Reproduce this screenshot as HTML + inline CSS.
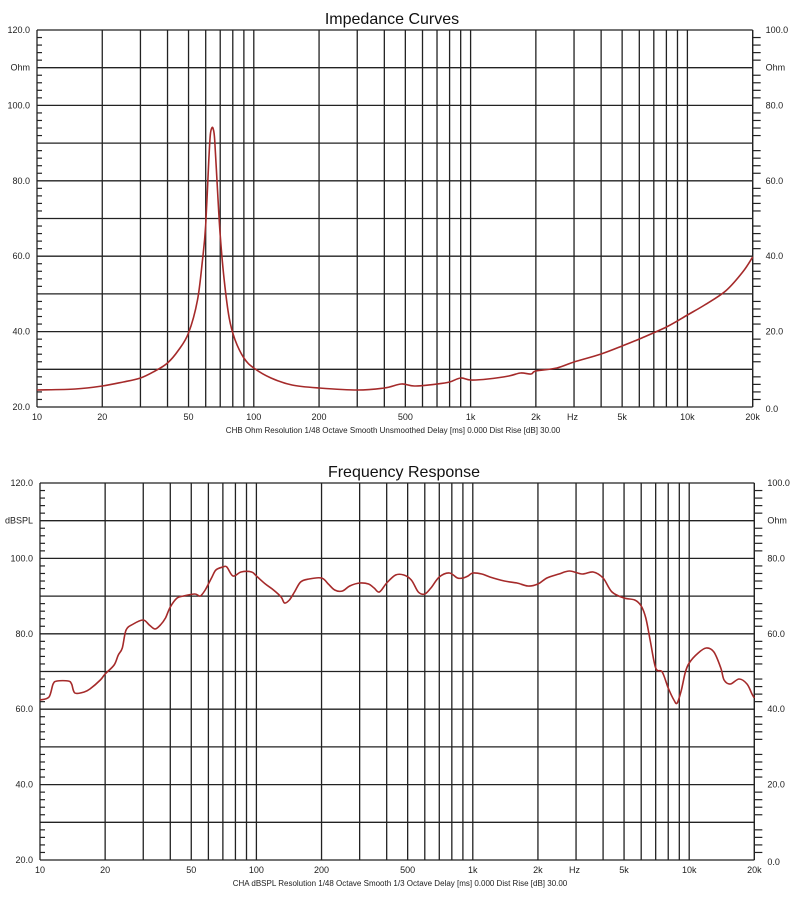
<!DOCTYPE html>
<html><head><meta charset="utf-8"><style>
html,body{margin:0;padding:0;background:#fff;}
svg{display:block;font-family:"Liberation Sans",sans-serif;}
</style></head><body>
<svg id="s" width="800" height="904" xmlns="http://www.w3.org/2000/svg"></svg>
<script>
var s=document.getElementById('s');var h='';
function smooth(pts){
 var d='M'+pts[0][0].toFixed(1)+','+pts[0][1];
 for(var i=0;i<pts.length-1;i++){
  var p0=pts[i-1]||pts[i],p1=pts[i],p2=pts[i+1],p3=pts[i+2]||p2;
  var c1x=p1[0]+(p2[0]-p0[0])/6,c1y=p1[1]+(p2[1]-p0[1])/6;
  var c2x=p2[0]-(p3[0]-p1[0])/6,c2y=p2[1]-(p3[1]-p1[1])/6;
  d+=' C'+c1x.toFixed(1)+','+c1y.toFixed(1)+' '+c2x.toFixed(1)+','+c2y.toFixed(1)+' '+p2[0].toFixed(1)+','+p2[1];
 }
 return d;
}
function chart(cfg){
 var x0=cfg.x0,dec=cfg.dec,y0=cfg.y0,y1=cfg.y1;
 var X=function(f){return x0+(Math.log10(f)-1)*dec;};
 var xr=X(20000);
 var st=(y1-y0)/10;
 h+='<text x="'+cfg.tx+'" y="'+(y0-6)+'" font-size="16" text-anchor="middle" font-family="Liberation Sans,DejaVu Sans,sans-serif" fill="#111">'+cfg.title+'</text>';
 for(var i=0;i<=10;i++){var y=y0+i*st;h+='<line x1="'+x0+'" x2="'+xr+'" y1="'+y+'" y2="'+y+'" stroke="#222" stroke-width="1.3"/>';}
 for(var i=0;i<50;i++){var y=y0+i*st/5; if(i%5==0)continue;
  h+='<line x1="'+x0+'" x2="'+(x0+5)+'" y1="'+y+'" y2="'+y+'" stroke="#222" stroke-width="1.2"/>';
  h+='<line x1="'+xr+'" x2="'+(xr+8)+'" y1="'+y+'" y2="'+y+'" stroke="#222" stroke-width="1.2"/>';}
 var fs=[];for(var d=10;d<=10000;d*=10)for(var m=1;m<10;m++){if(d*m<=20000)fs.push(d*m);}fs.push(20000);
 fs.forEach(function(f){var x=X(f);h+='<line x1="'+x+'" x2="'+x+'" y1="'+y0+'" y2="'+y1+'" stroke="#222" stroke-width="1.3"/>';});
 var L=[[10,'10'],[20,'20'],[50,'50'],[100,'100'],[200,'200'],[500,'500'],[1000,'1k'],[2000,'2k'],[2950,'Hz'],[5000,'5k'],[10000,'10k'],[20000,'20k']];
 L.forEach(function(l){h+='<text x="'+X(l[0])+'" y="'+(y1+13)+'" font-size="9" text-anchor="middle" fill="#222">'+l[1]+'</text>';});
 h+='<text x="'+cfg.sx+'" y="'+(y1+26)+'" font-size="8" text-anchor="middle" fill="#222">'+cfg.sub+'</text>';
 var ll=['120.0',cfg.lu,'100.0','','80.0','','60.0','','40.0','','20.0'];
 var rl=['100.0',cfg.ru,'80.0','','60.0','','40.0','','20.0','','0.0'];
 for(var i=0;i<=10;i++){var y=y0+i*st+3;
  if(ll[i])h+='<text x="'+(x0-7)+'" y="'+y+'" font-size="9" text-anchor="end" fill="#222">'+ll[i]+'</text>';
  if(rl[i])h+='<text x="'+(xr+13)+'" y="'+(y+(i==10?2:0))+'" font-size="9" fill="#222">'+rl[i]+'</text>';}
 var pts=cfg.data.map(function(d){return [X(d[0]),d[1]];});
 h+='<path d="'+smooth(pts)+'" fill="none" stroke="#a52a2a" stroke-width="1.6" stroke-linejoin="round"/>';
}
chart({x0:37,dec:216.8,y0:30,y1:407,tx:392,sx:393,title:'Impedance Curves',lu:'Ohm',ru:'Ohm',
sub:'CHB Ohm Resolution 1/48 Octave Smooth Unsmoothed Delay [ms] 0.000 Dist Rise [dB] 30.00',
data:[[10,390],[15,389],[20,386],[25,382],[30,378],[35,371],[40,363],[45,350],[50,333],[55,300],[58,260],[60,225],[62,160],[63,135],[64,128],[65,129],[66,140],[68,190],[70,235],[73,280],[77,318],[82,340],[90,358],[100,368],[120,378],[150,385],[200,388],[300,390],[400,388],[480,384],[550,386],[700,384],[800,382],[900,378],[1000,380],[1200,379],[1500,376],[1700,373],[1900,374],[2000,371],[2500,368],[3000,362],[4000,354],[5000,346],[6000,339],[8000,327],[10000,315],[12000,305],[15000,291],[18000,272],[20000,257]]});
chart({x0:40,dec:216.4,y0:483,y1:860,tx:404,sx:400,title:'Frequency Response',lu:'dBSPL',ru:'Ohm',
sub:'CHA dBSPL Resolution 1/48 Octave Smooth 1/3 Octave Delay [ms] 0.000 Dist Rise [dB] 30.00',
data:[[10,700],[11,697],[11.5,684],[12,681],[13.5,681],[14,684],[14.5,693],[16,692],[17,689],[19,680],[20,674],[22,665],[23,655],[24,648],[25,630],[27,624],[30,620],[32,625],[34,629],[36,625],[38,618],[40,607],[43,598],[46,596],[52,594],[55,596],[58,590],[62,578],[65,570],[70,567],[73,567],[78,576],[85,572],[95,572],[100,576],[110,584],[120,590],[130,597],[135,603],[142,600],[150,592],[160,582],[175,579],[200,578],[215,584],[230,590],[250,591],[270,586],[300,583],[330,584],[350,588],[370,592],[400,583],[440,575],[480,575],[520,580],[560,592],[600,594],[640,588],[700,577],[780,573],[850,578],[900,578],[950,576],[1000,573],[1100,574],[1200,577],[1400,581],[1600,583],[1800,586],[2000,584],[2200,578],[2500,574],[2800,571],[3200,574],[3600,572],[4000,578],[4400,592],[5000,598],[5600,600],[6000,606],[6300,618],[6600,640],[7000,668],[7500,672],[8000,688],[8500,700],[8800,703],[9200,690],[9600,672],[10000,663],[11000,653],[12000,648],[13000,652],[14000,668],[14500,680],[15500,684],[17000,679],[18500,684],[19500,694],[20000,698]]});
s.innerHTML=h;
</script>
</body></html>
